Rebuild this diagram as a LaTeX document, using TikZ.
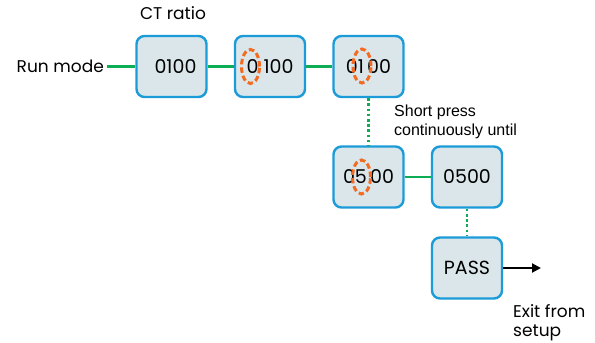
\documentclass[tikz,border=0pt]{standalone}
\usepackage{fontspec}
\setmainfont{Poppins}
\newfontfamily\notefont{Liberation Sans}
\usetikzlibrary{arrows.meta,calc}
\definecolor{screenfill}{HTML}{DAE6EA}
\definecolor{screenline}{HTML}{1B9BD7}
\definecolor{linkgreen}{HTML}{0DAD55}
\definecolor{blinkorange}{HTML}{F26B21}
\begin{document}
\begin{tikzpicture}[
  screen/.style={draw=screenline, fill=screenfill, line width=2.4pt, rounded corners=8pt,
    minimum width=70pt, minimum height=61pt, inner sep=0pt, font=\fontsize{19}{22}\selectfont},
  link/.style={draw=linkgreen, line width=2.5pt},
  hold/.style={link, line width=2.6pt, dash pattern=on 2.6pt off 2.6pt},
  blink/.style={draw=blinkorange, dash pattern=on 5.5pt off 3pt, line width=3pt},
  tag/.style={inner sep=0pt, font=\fontsize{17}{19}\selectfont}
]

  \useasboundingbox (-171.5pt, 66.5pt) rectangle (423.5pt, -276.5pt);

  \newcommand\STEPX{98.5pt}
  \newcommand\STEPY{-110.5pt}
  \newcommand\PASSY{-201.5pt}

  \node[screen] (A) at (0, 0) {\hspace{8pt}0100};
  \node[screen] (B) at (\STEPX, 0) {0 100};
  \node[screen] (C) at (2*\STEPX, 0) {01\,00};
  \node[screen] (D) at (2*\STEPX, \STEPY) {05\,00};
  \node[screen] (E) at (3*\STEPX, \STEPY) {0500};
  \node[screen] (F) at (3*\STEPX, \PASSY) {PASS};

  \node[tag, anchor=east, inner xsep=3pt] (run) at (-64.5pt, 0) {Run mode};
  \node[tag] (ct) at (1.5pt, 53.5pt) {CT ratio};
  \node[tag, anchor=west, align=left, font=\notefont\fontsize{16}{19}\selectfont] (note)
    at (222.5pt, -55pt) {Short press\\continuously until};
  \node[tag, anchor=west, align=left] (exittext) at (341.5pt, -256pt) {Exit from\\setup};
  \coordinate (exit) at (369.5pt, \PASSY);

  \draw[link] (run) -- (A);
  \draw[link] (A) -- (B);
  \draw[link] (B) -- (C);
  \draw[hold] (C) -- (D);
  \draw[link] (D) -- (E);
  \draw[hold] (E) -- (F);
  \draw[line width=2pt, -{Triangle[length=9pt, width=9pt]}] (F) -- (exit);

  % blinking digits
  \draw[blink] ($(B.center)+(-19.5pt, 0)$) ellipse (9pt and 17pt);
  \draw[blink] ($(C.center)+(-6.5pt, 0.5pt)$) ellipse (9pt and 17pt);
  \draw[blink] ($(D.center)+(-7pt, 0)$) ellipse (9pt and 17pt);

\end{tikzpicture}
\end{document}
